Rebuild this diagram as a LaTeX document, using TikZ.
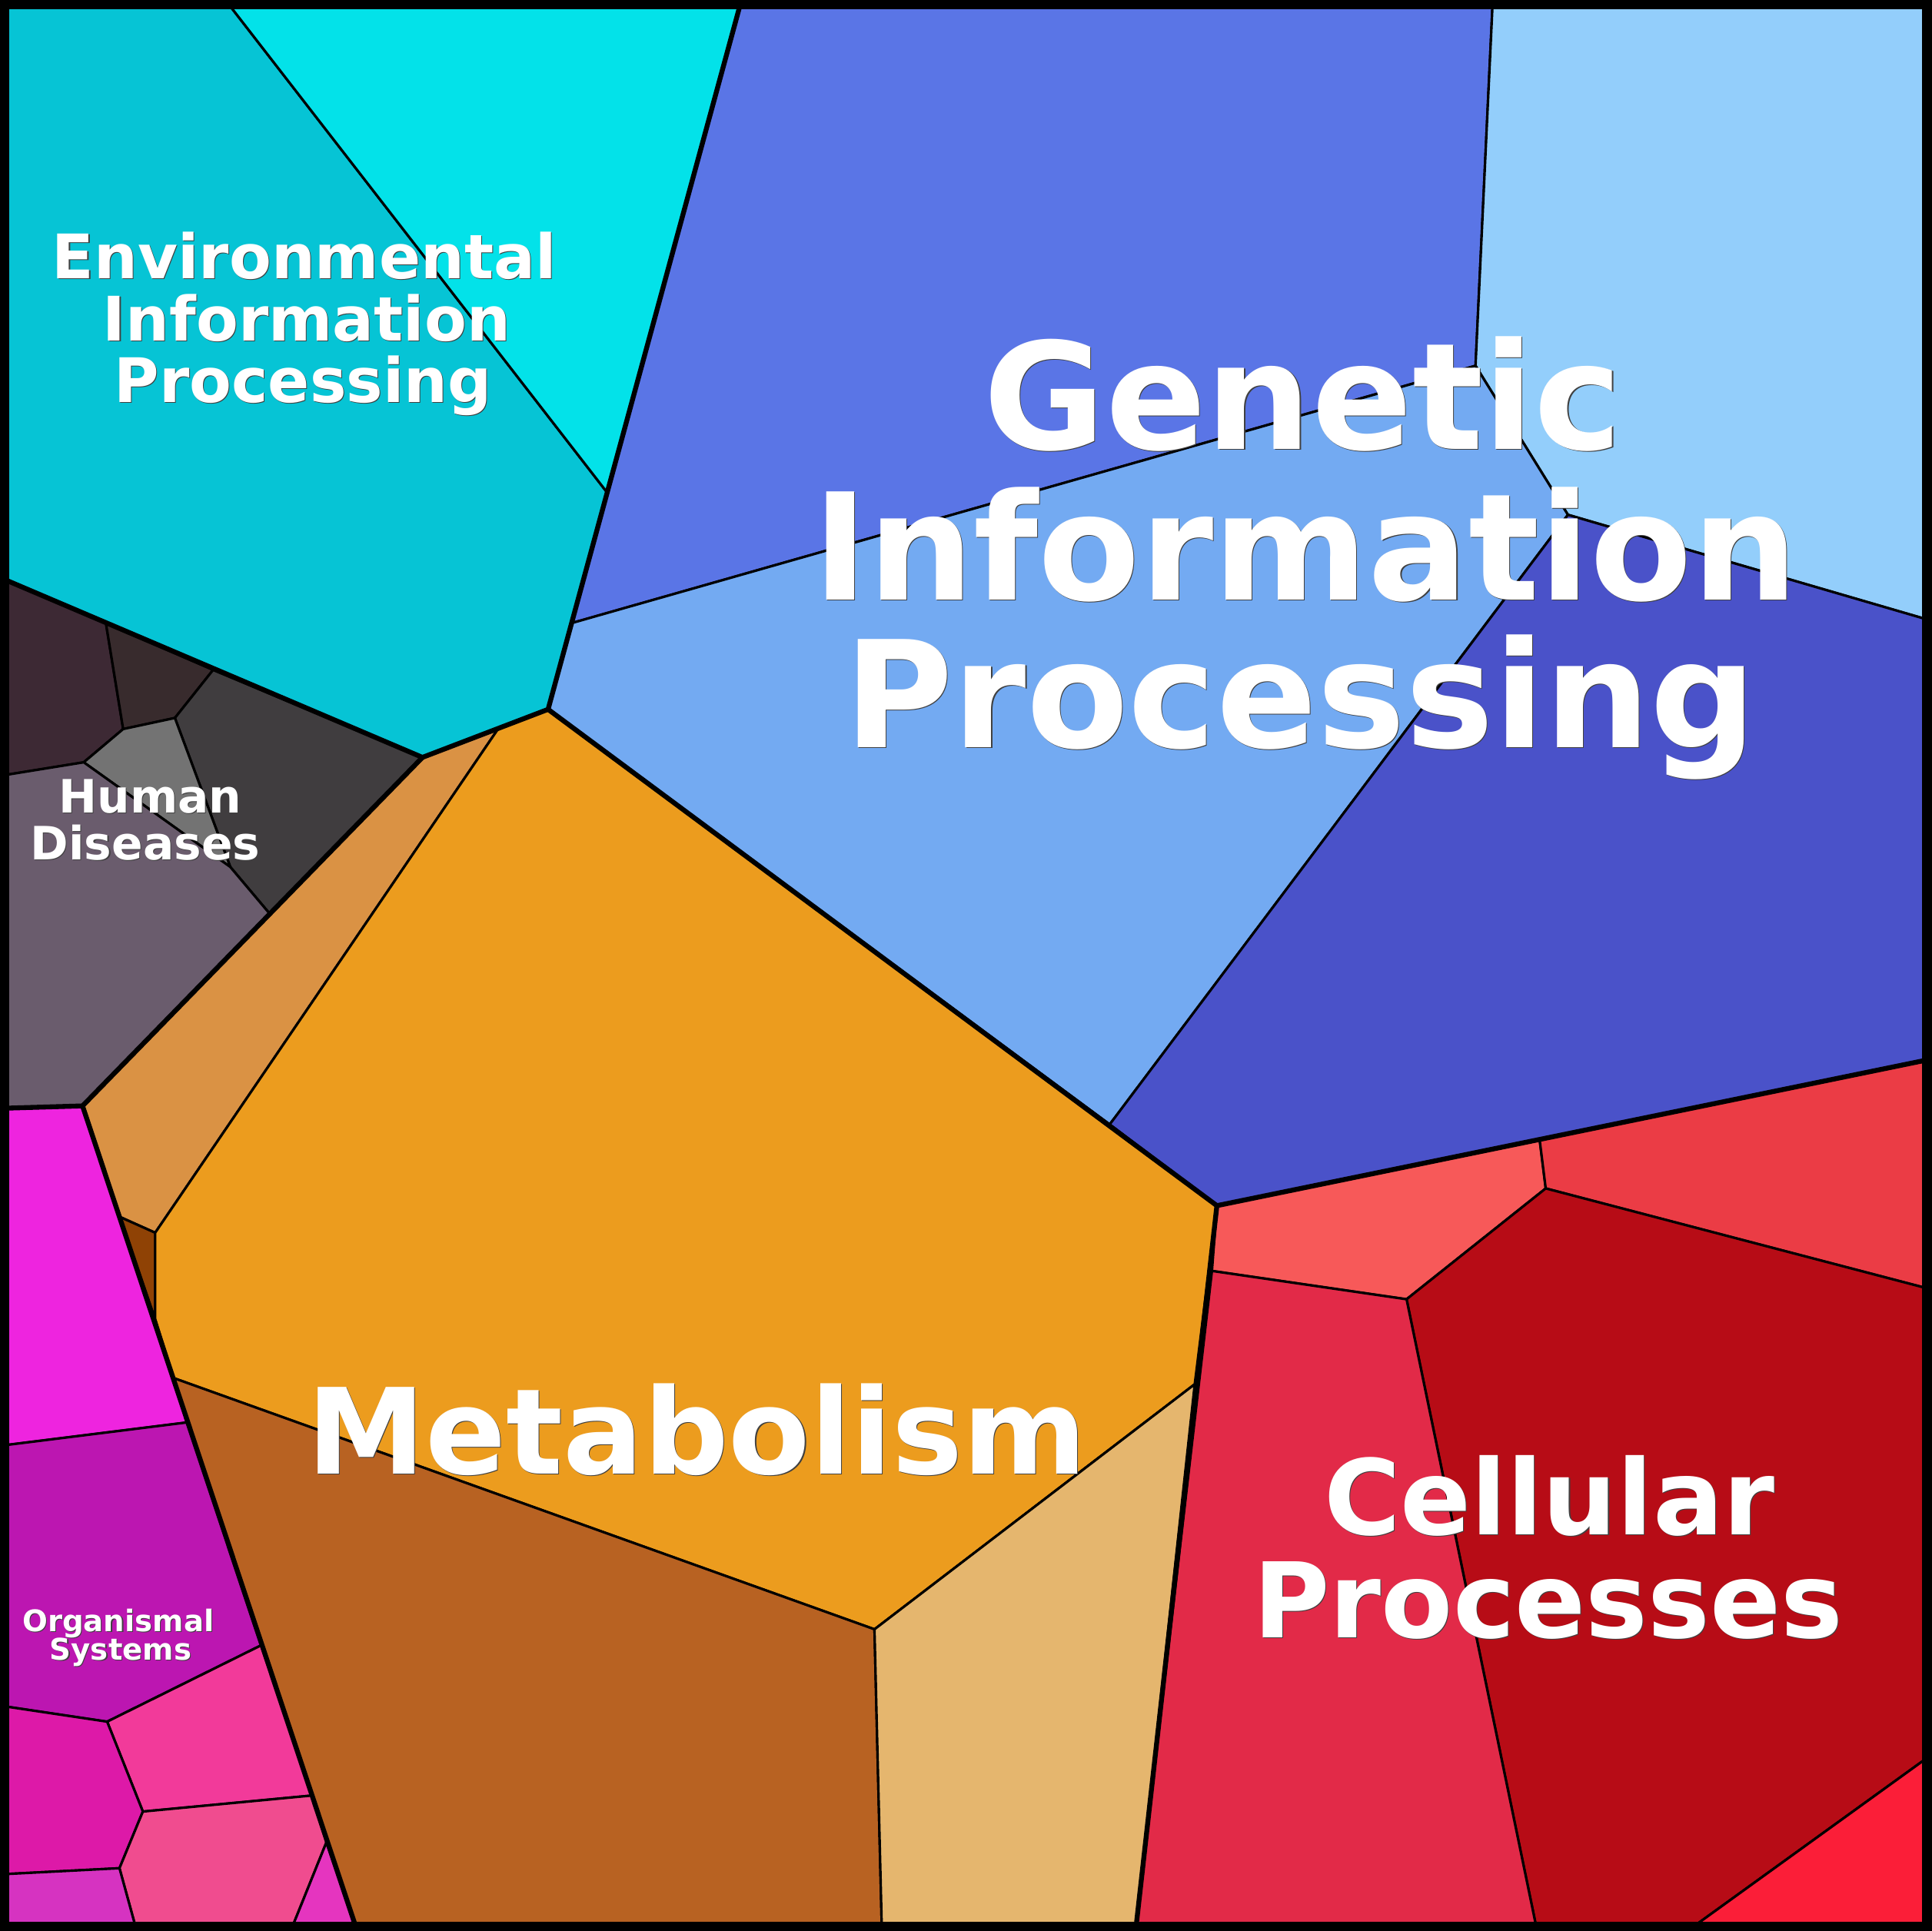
\documentclass[tikz,border=0pt]{standalone}
\usepackage{fontspec}
\setmainfont{DejaVu Sans}
\definecolor{envA}{HTML}{06C4D5}
\definecolor{envB}{HTML}{03E2E9}
\definecolor{genA}{HTML}{5A75E6}
\definecolor{genB}{HTML}{93CEFB}
\definecolor{genC}{HTML}{73AAF2}
\definecolor{genD}{HTML}{4A52C9}
\definecolor{celA}{HTML}{F75959}
\definecolor{celB}{HTML}{EB3C45}
\definecolor{celC}{HTML}{B70C16}
\definecolor{celD}{HTML}{E22A48}
\definecolor{celE}{HTML}{FB1E38}
\definecolor{metA}{HTML}{DA9244}
\definecolor{metB}{HTML}{8F4205}
\definecolor{metC}{HTML}{EC9C1E}
\definecolor{metD}{HTML}{B86222}
\definecolor{metE}{HTML}{E5B66E}
\definecolor{humA}{HTML}{3D2934}
\definecolor{humB}{HTML}{382B2D}
\definecolor{humC}{HTML}{403D3F}
\definecolor{humD}{HTML}{737373}
\definecolor{humE}{HTML}{6A5C6D}
\definecolor{orgA}{HTML}{EE24DF}
\definecolor{orgB}{HTML}{BC16B1}
\definecolor{orgC}{HTML}{F23A9A}
\definecolor{orgD}{HTML}{DD19A8}
\definecolor{orgE}{HTML}{F04C8F}
\definecolor{orgF}{HTML}{D633C1}
\definecolor{orgG}{HTML}{E535BF}
\newcommand\kegglabel[5]{%
  \node[lbltxt, text=black!75, xshift=0.32pt, yshift=-0.32pt,
        font=\fontsize{#4}{#4}\selectfont\bfseries] at (#2,#3) {#5};
  \node[lbltxt, text=white,
        font=\fontsize{#4}{#4}\selectfont\bfseries] (#1) at (#2,#3) {#5};}
\begin{document}
\begin{tikzpicture}[x=0.016cm, y=-0.016cm,
  cell/.style={draw=black, line width=0.9pt, line join=round},
  major/.style={draw=black, line width=1.8pt, line join=round, line cap=round},
  frame/.style={draw=black, line width=3.4pt},
  lbltxt/.style={inner sep=0pt, anchor=base}]
\useasboundingbox (0,0) rectangle (1568,1568);
% vertices
\coordinate (eA) at (183,0);
\coordinate (eB) at (602,0);
\coordinate (eC) at (493,400);
\coordinate (eD) at (464,506);
\coordinate (eE) at (445,576);
\coordinate (eF) at (343,615);
\coordinate (eG) at (0,469);
\coordinate (eH) at (405,591);
\coordinate (gA) at (1212,0);
\coordinate (gB) at (1198,297);
\coordinate (gC) at (1273,418);
\coordinate (gD) at (1568,504);
\coordinate (gE) at (1568,860);
\coordinate (gF) at (988,979);
\coordinate (gG) at (901,913);
\coordinate (cA) at (1250,925);
\coordinate (cB) at (1255,965);
\coordinate (cC) at (1142,1055);
\coordinate (cD) at (984,1032);
\coordinate (cE) at (1568,1047);
\coordinate (cF) at (1568,1425);
\coordinate (cG) at (1370,1568);
\coordinate (cH) at (1248,1568);
\coordinate (cI) at (922,1568);
\coordinate (mA) at (970,1124);
\coordinate (mB) at (710,1323);
\coordinate (mC) at (716,1568);
\coordinate (mD) at (141,1119);
\coordinate (mE) at (126,1071);
\coordinate (mF) at (126,1001);
\coordinate (mG) at (97,988);
\coordinate (mH) at (290,1568);
\coordinate (hA) at (67,898);
\coordinate (hB) at (86,506);
\coordinate (hC) at (100,592);
\coordinate (hD) at (142,583);
\coordinate (hE) at (173,544);
\coordinate (hF) at (68,619);
\coordinate (hG) at (0,630);
\coordinate (hH) at (187,704);
\coordinate (hI) at (219,742);
\coordinate (hJ) at (0,900);
\coordinate (oA) at (152,1155);
\coordinate (oB) at (0,1174);
\coordinate (oC) at (212,1336);
\coordinate (oD) at (87,1398);
\coordinate (oE) at (0,1385);
\coordinate (oF) at (116,1471);
\coordinate (oG) at (253,1458);
\coordinate (oH) at (97,1517);
\coordinate (oI) at (0,1522);
\coordinate (oJ) at (111,1568);
\coordinate (oK) at (265,1496);
\coordinate (oL) at (236,1568);
% Environmental Information Processing
\filldraw[cell, fill=envA] (0,0) -- (eA) -- (eC) -- (eE) -- (eF) -- (eG) -- cycle;
\filldraw[cell, fill=envB] (eA) -- (eB) -- (eC) -- cycle;
% Genetic Information Processing
\filldraw[cell, fill=genA] (eB) -- (gA) -- (gB) -- (eD) -- (eC) -- cycle;
\filldraw[cell, fill=genB] (gA) -- (1568,0) -- (gD) -- (gC) -- (gB) -- cycle;
\filldraw[cell, fill=genC] (eD) -- (gB) -- (gC) -- (gG) -- (eE) -- cycle;
\filldraw[cell, fill=genD] (gC) -- (gD) -- (gE) -- (gF) -- (gG) -- cycle;
% Cellular Processes
\filldraw[cell, fill=celA] (gF) -- (cA) -- (cB) -- (cC) -- (cD) -- cycle;
\filldraw[cell, fill=celB] (cA) -- (gE) -- (cE) -- (cB) -- cycle;
\filldraw[cell, fill=celC] (cB) -- (cE) -- (cF) -- (cG) -- (cH) -- (cC) -- cycle;
\filldraw[cell, fill=celD] (cD) -- (cC) -- (cH) -- (cI) -- cycle;
\filldraw[cell, fill=celE] (cG) -- (cF) -- (1568,1568) -- cycle;
% Metabolism
\filldraw[cell, fill=metA] (eF) -- (eH) -- (mF) -- (mG) -- (hA) -- cycle;
\filldraw[cell, fill=metB] (mG) -- (mF) -- (mE) -- cycle;
\filldraw[cell, fill=metC] (eH) -- (eE) -- (gF) -- (mA) -- (mB) -- (mD) -- (mE) -- (mF) -- cycle;
\filldraw[cell, fill=metD] (mD) -- (mB) -- (mC) -- (mH) -- cycle;
\filldraw[cell, fill=metE] (mB) -- (mA) -- (cI) -- (mC) -- cycle;
% Human Diseases
\filldraw[cell, fill=humA] (eG) -- (hB) -- (hC) -- (hF) -- (hG) -- cycle;
\filldraw[cell, fill=humB] (hB) -- (hE) -- (hD) -- (hC) -- cycle;
\filldraw[cell, fill=humC] (hE) -- (eF) -- (hI) -- (hH) -- (hD) -- cycle;
\filldraw[cell, fill=humD] (hC) -- (hD) -- (hH) -- (hF) -- cycle;
\filldraw[cell, fill=humE] (hG) -- (hF) -- (hH) -- (hI) -- (hA) -- (hJ) -- cycle;
% Organismal Systems
\filldraw[cell, fill=orgA] (hJ) -- (hA) -- (oA) -- (oB) -- cycle;
\filldraw[cell, fill=orgB] (oB) -- (oA) -- (oC) -- (oD) -- (oE) -- cycle;
\filldraw[cell, fill=orgC] (oD) -- (oC) -- (oG) -- (oF) -- cycle;
\filldraw[cell, fill=orgD] (oE) -- (oD) -- (oF) -- (oH) -- (oI) -- cycle;
\filldraw[cell, fill=orgE] (oF) -- (oG) -- (oK) -- (oL) -- (oJ) -- (oH) -- cycle;
\filldraw[cell, fill=orgF] (oI) -- (oH) -- (oJ) -- (0,1568) -- cycle;
\filldraw[cell, fill=orgG] (oL) -- (oK) -- (mH) -- cycle;
% top-level boundaries
\draw[major] (eG) -- (eF) -- (eE) -- (eB);
\draw[major] (eE) -- (gF) -- (gE);
\draw[major] (gF) -- (cI);
\draw[major] (eF) -- (hA) -- (mH);
\draw[major] (hJ) -- (hA);
% frame
\draw[frame] (3.75,3.75) rectangle (1564.25,1564.25);
% labels
\kegglabel{gen1}{1058}{365}{54.9}{Genetic}
\kegglabel{gen2}{1060}{487}{54.9}{Information}
\kegglabel{gen3}{1056}{607}{54.9}{Processing}
\kegglabel{met}{566}{1197}{44}{Metabolism}
\kegglabel{cel1}{1258}{1246}{38.6}{Cellular}
\kegglabel{cel2}{1257}{1330}{38.6}{Processes}
\kegglabel{env1}{247}{226}{22.7}{Environmental}
\kegglabel{env2}{249}{277}{22.7}{Information}
\kegglabel{env3}{246}{327}{22.7}{Processing}
\kegglabel{hum1}{122}{660}{17}{Human}
\kegglabel{hum2}{118}{698}{17}{Diseases}
\kegglabel{org1}{96}{1325}{11}{Organismal}
\kegglabel{org2}{98}{1348}{11}{Systems}
\end{tikzpicture}
\end{document}
